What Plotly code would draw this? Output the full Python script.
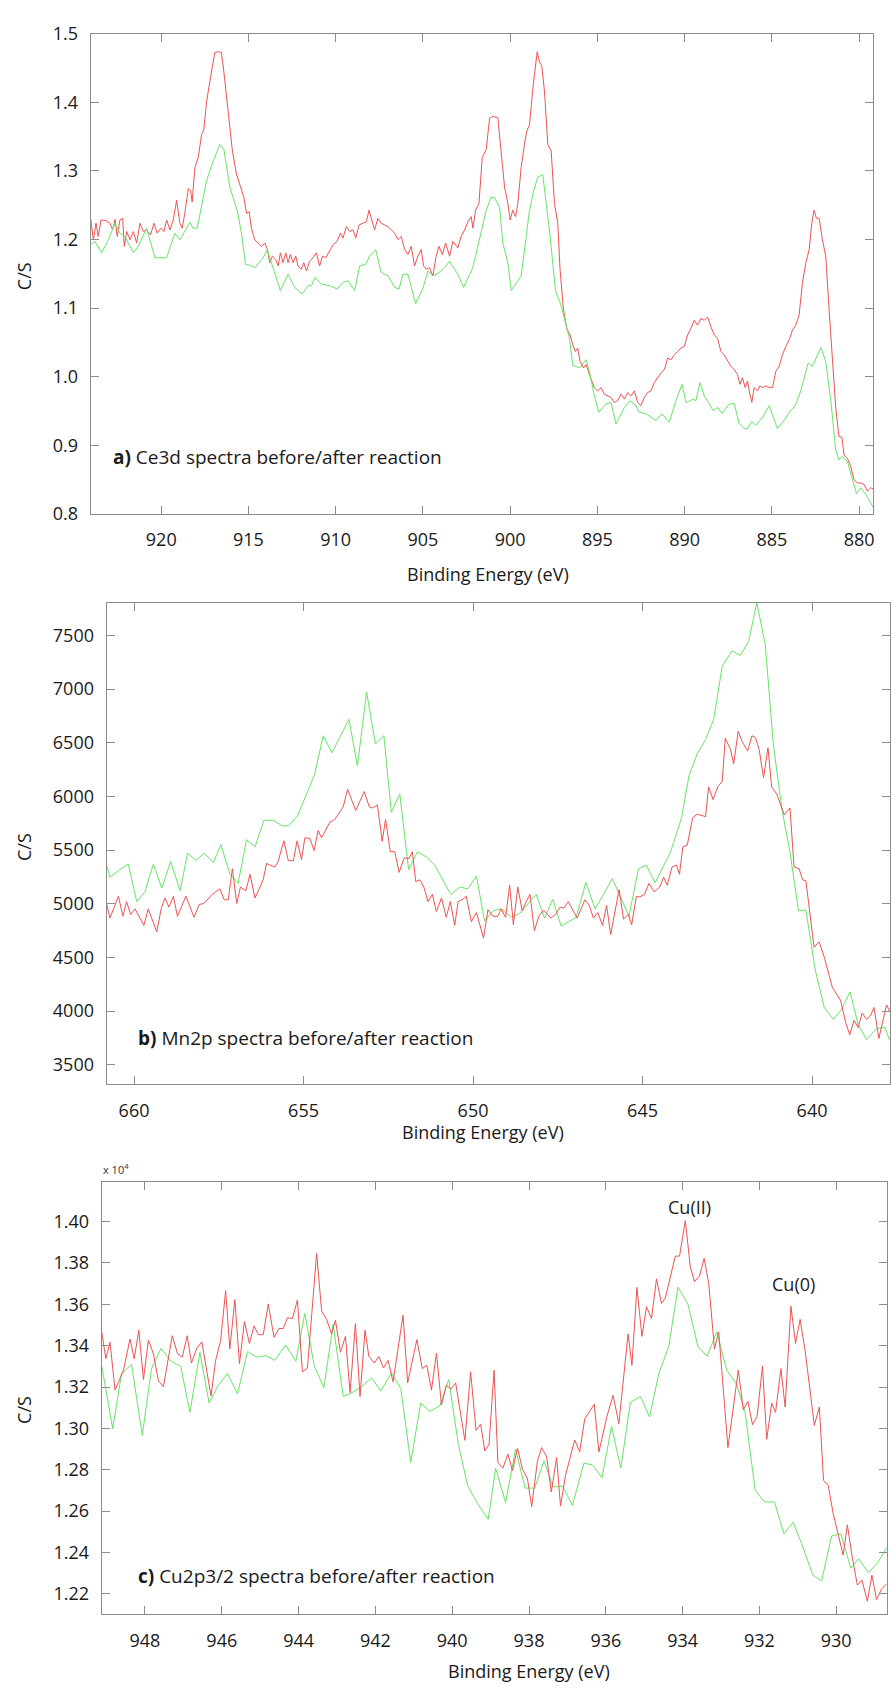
import plotly.graph_objects as go

W, H = 892, 1695

# ---------------- Panel a : Ce3d ----------------
ce_red_e = [924.05, 923.89, 923.74, 923.61, 923.45, 923.17, 922.94, 922.79, 922.65, 922.52, 922.37, 922.21, 922.12,
            921.98, 921.79, 921.60, 921.41, 921.22, 921.03, 920.84, 920.61, 920.42, 920.23, 920.02, 919.85, 919.69,
            919.50, 919.31, 919.12, 918.93, 918.80, 918.65, 918.45, 918.32, 918.23, 918.07, 917.88, 917.69, 917.56,
            917.40, 917.25, 917.12, 916.93, 916.74, 916.55, 916.41, 916.16, 915.92, 915.69, 915.46, 915.27, 915.11,
            914.96, 914.83, 914.64, 914.45, 914.26, 914.06, 913.91, 913.78, 913.63, 913.44, 913.30, 913.17, 913.02,
            912.86, 912.73, 912.60, 912.44, 912.29, 912.16, 911.97, 911.83, 911.68, 911.49, 911.30, 911.11, 910.92,
            910.76, 910.57, 910.34, 910.15, 909.92, 909.73, 909.58, 909.39, 909.20, 909.01, 908.85, 908.66, 908.44,
            908.24, 908.09, 907.90, 907.77, 907.58, 907.39, 907.19, 907.00, 906.81, 906.62, 906.43, 906.24, 906.05,
            905.86, 905.67, 905.48, 905.29, 905.10, 904.96, 904.81, 904.62, 904.43, 904.24, 904.08, 903.89, 903.70,
            903.47, 903.28, 903.00, 902.81, 902.61, 902.42, 902.23, 902.14, 901.98, 901.79, 901.60, 901.37, 901.18,
            900.99, 900.71, 900.52, 900.32, 900.13, 900.00, 899.85, 899.69, 899.56, 899.37, 899.18, 899.05, 898.89,
            898.70, 898.45, 898.32, 898.19, 898.03, 897.84, 897.65, 897.46, 897.27, 897.14, 896.95, 896.76, 896.56,
            896.41, 896.26, 896.13, 895.99, 895.80, 895.65, 895.46, 895.31, 895.17, 894.98, 894.79, 894.60, 894.41,
            894.22, 894.03, 893.84, 893.65, 893.45, 893.26, 893.07, 892.88, 892.69, 892.50, 892.31, 892.12, 891.93,
            891.74, 891.55, 891.35, 891.16, 890.97, 890.78, 890.59, 890.40, 890.21, 890.02, 889.83, 889.64, 889.45,
            889.26, 889.07, 888.87, 888.68, 888.49, 888.30, 888.11, 887.92, 887.73, 887.54, 887.35, 887.16, 886.97,
            886.83, 886.68, 886.53, 886.39, 886.26, 886.15, 886.01, 885.82, 885.69, 885.53, 885.34, 885.15, 884.96,
            884.77, 884.58, 884.39, 884.20, 884.01, 883.82, 883.63, 883.44, 883.24, 883.05, 882.86, 882.71, 882.58,
            882.44, 882.29, 882.10, 881.91, 881.72, 881.53, 881.34, 881.15, 880.99, 880.86, 880.67, 880.48, 880.29,
            880.10, 879.90, 879.71, 879.52, 879.33, 879.20]
ce_red_v = [1.2308, 1.1996, 1.2236, 1.2044, 1.2284, 1.2274, 1.2236, 1.2140, 1.2293, 1.2044, 1.2284, 1.2308, 1.1900,
            1.2116, 1.1996, 1.2116, 1.1948, 1.2236, 1.2116, 1.2140, 1.2068, 1.2236, 1.2092, 1.2164, 1.2116, 1.2284,
            1.2140, 1.2284, 1.2571, 1.2236, 1.2164, 1.2379, 1.2739, 1.2715, 1.2547, 1.3050, 1.3194, 1.3529, 1.3601,
            1.4009, 1.4248, 1.4440, 1.4727, 1.4737, 1.4727, 1.4440, 1.3865, 1.3290, 1.2954, 1.2763, 1.2619, 1.2379,
            1.2403, 1.2164, 1.1996, 1.1948, 1.1900, 1.1948, 1.1852, 1.1661, 1.1757, 1.1709, 1.1613, 1.1805, 1.1661,
            1.1805, 1.1661, 1.1781, 1.1661, 1.1757, 1.1613, 1.1565, 1.1661, 1.1541, 1.1685, 1.1733, 1.1805, 1.1613,
            1.1757, 1.1733, 1.1828, 1.1924, 1.1972, 1.2092, 1.2020, 1.2188, 1.2116, 1.2140, 1.2020, 1.2212, 1.2236,
            1.2260, 1.2427, 1.2236, 1.2140, 1.2308, 1.2236, 1.2212, 1.2188, 1.2140, 1.2092, 1.1996, 1.2044, 1.1852,
            1.1781, 1.1900, 1.1613, 1.1757, 1.1852, 1.1613, 1.1565, 1.1589, 1.1469, 1.1757, 1.1900, 1.1781, 1.1948,
            1.1757, 1.1972, 1.1876, 1.2044, 1.2140, 1.2260, 1.2332, 1.2164, 1.2427, 1.2523, 1.3194, 1.3314, 1.3769,
            1.3793, 1.3779, 1.3290, 1.2763, 1.2523, 1.2284, 1.2427, 1.2332, 1.2523, 1.3050, 1.3386, 1.3577, 1.3673,
            1.4200, 1.4737, 1.4584, 1.4536, 1.4152, 1.3386, 1.3290, 1.2523, 1.2236, 1.1565, 1.0990, 1.0702, 1.0607,
            1.0463, 1.0367, 1.0415, 1.0223, 1.0127, 1.0175, 1.0032, 0.9936, 0.9840, 0.9792, 0.9840, 0.9744, 0.9720,
            0.9696, 0.9624, 0.9648, 0.9744, 0.9672, 0.9768, 0.9720, 0.9792, 0.9624, 0.9576, 0.9696, 0.9768, 0.9792,
            0.9912, 0.9984, 1.0056, 1.0103, 1.0271, 1.0247, 1.0319, 1.0367, 1.0415, 1.0439, 1.0607, 1.0702, 1.0822,
            1.0750, 1.0846, 1.0822, 1.0870, 1.0726, 1.0607, 1.0559, 1.0367, 1.0319, 1.0223, 1.0151, 1.0103, 1.0032,
            0.9888, 0.9984, 0.9840, 0.9936, 0.9744, 0.9624, 0.9840, 0.9792, 0.9864, 0.9840, 0.9864, 0.9840, 0.9840,
            1.0080, 1.0151, 1.0319, 1.0439, 1.0535, 1.0678, 1.0750, 1.0894, 1.1373, 1.1661, 1.1852, 1.2236, 1.2427,
            1.2308, 1.2308, 1.1996, 1.1757, 1.0990, 1.0223, 0.9552, 0.9121, 0.9121, 0.8858, 0.8810, 0.8690, 0.8498,
            0.8450, 0.8450, 0.8426, 0.8331, 0.8379, 0.8364]

ce_grn_e = [924.05, 923.80, 923.42, 923.03, 922.65, 922.37, 922.08, 921.60, 921.32, 920.84, 920.36, 919.69, 919.22,
            918.93, 918.36, 918.17, 917.94, 917.40, 917.02, 916.64, 916.41, 916.07, 915.65, 915.40, 915.17, 914.89,
            914.64, 914.16, 913.93, 913.59, 913.17, 912.73, 912.35, 911.93, 911.58, 911.39, 911.20, 910.82, 910.34,
            909.92, 909.58, 909.29, 908.91, 908.63, 908.28, 908.05, 907.71, 907.39, 907.00, 906.62, 906.37, 906.15,
            905.86, 905.42, 905.00, 904.71, 904.43, 904.08, 903.76, 903.47, 903.38, 903.00, 902.67, 902.14, 901.56,
            901.37, 901.09, 900.90, 900.61, 900.42, 900.13, 899.94, 899.75, 899.37, 899.08, 898.89, 898.65, 898.42,
            898.13, 897.94, 897.71, 897.40, 897.08, 896.60, 896.41, 896.03, 895.65, 895.46, 895.17, 894.92, 894.50,
            894.22, 893.93, 893.45, 893.13, 892.79, 892.60, 892.21, 891.64, 891.30, 890.88, 890.50, 890.15, 889.92,
            889.50, 889.35, 889.12, 888.87, 888.59, 888.36, 888.11, 887.86, 887.44, 887.16, 886.87, 886.58, 886.39,
            886.16, 885.92, 885.53, 885.15, 884.68, 884.29, 884.01, 883.66, 883.34, 882.92, 882.67, 882.19, 881.91,
            881.62, 881.34, 881.15, 880.92, 880.67, 880.38, 880.15, 879.90, 879.62, 879.33, 879.20]
ce_grn_v = [1.1924, 1.1972, 1.1805, 1.1996, 1.2236, 1.2092, 1.2044, 1.1805, 1.1900, 1.2164, 1.1733, 1.1733, 1.2092,
            1.1996, 1.2250, 1.2164, 1.2164, 1.2859, 1.3146, 1.3386, 1.3314, 1.2763, 1.2427, 1.2092, 1.1637, 1.1622,
            1.1589, 1.1733, 1.1852, 1.1589, 1.1253, 1.1493, 1.1301, 1.1206, 1.1325, 1.1325, 1.1445, 1.1349, 1.1325,
            1.1277, 1.1373, 1.1397, 1.1253, 1.1613, 1.1637, 1.1757, 1.1852, 1.1517, 1.1469, 1.1301, 1.1277, 1.1493,
            1.1493, 1.1062, 1.1287, 1.1541, 1.1469, 1.1517, 1.1589, 1.1685, 1.1637, 1.1493, 1.1301, 1.1589, 1.2236,
            1.2427, 1.2619, 1.2610, 1.2475, 1.1948, 1.1661, 1.1253, 1.1325, 1.1469, 1.2044, 1.2427, 1.2715, 1.2907,
            1.2945, 1.2523, 1.2044, 1.1253, 1.1038, 1.0559, 1.0166, 1.0127, 1.0247, 1.0080, 0.9720, 0.9481, 0.9600,
            0.9624, 0.9313, 0.9552, 0.9648, 0.9576, 0.9481, 0.9457, 0.9361, 0.9457, 0.9337, 0.9648, 0.9888, 0.9624,
            0.9672, 0.9648, 0.9912, 0.9720, 0.9600, 0.9505, 0.9552, 0.9466, 0.9600, 0.9610, 0.9313, 0.9241, 0.9241,
            0.9346, 0.9289, 0.9409, 0.9576, 0.9241, 0.9361, 0.9481, 0.9576, 0.9792, 1.0199, 1.0151, 1.0425, 1.0223,
            0.9648, 0.8930, 0.8786, 0.8834, 0.8762, 0.8498, 0.8297, 0.8379, 0.8283, 0.8163, 0.8091]

# ---------------- Panel b : Mn2p ----------------
mn_red_e = [660.81, 660.71, 660.46, 660.33, 660.22, 660.10, 659.97, 659.71, 659.58, 659.33, 659.20, 659.09, 658.97,
            658.84, 658.72, 658.47, 658.23, 658.08, 657.94, 657.69, 657.47, 657.34, 657.22, 657.10, 656.97, 656.86,
            656.70, 656.58, 656.43, 656.19, 656.09, 655.99, 655.84, 655.75, 655.58, 655.45, 655.30, 655.19, 655.06,
            654.96, 654.81, 654.69, 654.57, 654.47, 654.22, 654.08, 653.83, 653.70, 653.46, 653.21, 653.06, 652.97,
            652.82, 652.68, 652.58, 652.44, 652.31, 652.18, 652.03, 651.89, 651.79, 651.69, 651.57, 651.45, 651.33,
            651.20, 651.08, 650.93, 650.79, 650.67, 650.54, 650.44, 650.29, 650.20, 650.05, 649.90, 649.69, 649.56,
            649.41, 649.27, 649.17, 649.04, 648.92, 648.81, 648.68, 648.55, 648.43, 648.32, 648.19, 648.06, 647.92,
            647.70, 647.57, 647.43, 647.32, 647.19, 646.93, 646.70, 646.57, 646.45, 646.32, 646.18, 646.06, 645.94,
            645.69, 645.56, 645.42, 645.32, 645.18, 645.08, 644.94, 644.81, 644.66, 644.49, 644.38, 644.27, 644.13,
            644.00, 643.91, 643.81, 643.68, 643.52, 643.39, 643.14, 643.05, 642.92, 642.78, 642.65, 642.56, 642.41,
            642.31, 642.18, 642.05, 641.90, 641.77, 641.67, 641.56, 641.43, 641.30, 641.19, 641.04, 640.82, 640.65,
            640.53, 640.38, 640.28, 640.18, 639.94, 639.79, 639.63, 639.40, 639.16, 639.01, 638.89, 638.76, 638.64,
            638.52, 638.39, 638.28, 638.17, 638.03, 637.91, 637.80, 637.71]
mn_red_v = [5002, 4866, 5070, 4883, 5019, 4900, 4951, 4798, 4951, 4737, 4951, 5053, 4968,
            5070, 4883, 5070, 4873, 4992, 5002, 5087, 5138, 5036, 5036, 5325, 5002, 5155,
            5121, 5274, 5053, 5223, 5376, 5359, 5342, 5393, 5586, 5402, 5399, 5586, 5410,
            5614, 5607, 5495, 5682, 5614, 5760, 5784, 5902, 6066, 5868, 6045, 5902, 5892,
            5919, 5580, 5784, 5484, 5484, 5291, 5427, 5420, 5484, 5206, 5223, 5155, 5019,
            5087, 4927, 5053, 4873, 5019, 4798, 5019, 5043, 5070, 4832, 4917, 4679, 4944,
            4883, 4883, 4951, 4873, 5172, 4805, 5155, 4934, 5019, 5087, 4747, 4883, 4941,
            4866, 4900, 4968, 4958, 5019, 4866, 5036, 4985, 4866, 4917, 4798, 4985, 4713,
            5131, 4856, 4900, 4805, 5070, 5063, 5087, 5189, 5110, 5155, 5246, 5172, 5342,
            5359, 5274, 5529, 5546, 5800, 5834, 5811, 6089, 5970, 6089, 6140, 6541, 6440,
            6304, 6606, 6504, 6423, 6565, 6548, 6436, 6174, 6453, 6089, 6021, 5828, 5892,
            5342, 5325, 5223, 5213, 4594, 4645, 4492, 4220, 4101, 3897, 3778, 3914, 3846,
            3982, 3921, 3955, 4033, 3744, 3914, 4057, 3999]

mn_grn_e = [660.81, 660.71, 660.46, 660.17, 659.92, 659.68, 659.43, 659.18, 658.92, 658.64, 658.42, 658.17, 657.93,
            657.66, 657.44, 657.17, 656.93, 656.68, 656.43, 656.17, 655.89, 655.63, 655.44, 655.18, 654.91, 654.67,
            654.42, 654.16, 653.66, 653.41, 653.14, 652.88, 652.63, 652.41, 652.16, 651.90, 651.64, 651.38, 651.13,
            650.88, 650.69, 650.64, 650.39, 650.15, 649.90, 649.66, 649.41, 649.17, 648.87, 648.63, 648.14, 647.89,
            647.65, 647.40, 646.96, 646.67, 646.40, 645.89, 645.40, 645.12, 644.89, 644.63, 644.17, 643.85, 643.63,
            643.39, 643.14, 642.90, 642.65, 642.36, 642.12, 641.87, 641.63, 641.38, 641.14, 640.89, 640.65, 640.40,
            640.18, 639.91, 639.64, 639.37, 639.13, 638.88, 638.64, 638.39, 638.09, 637.85, 637.71]
mn_grn_v = [5359, 5246, 5308, 5369, 5019, 5110, 5369, 5144, 5393, 5121, 5471, 5403, 5471,
            5382, 5552, 5274, 5189, 5597, 5529, 5777, 5777, 5726, 5726, 5817, 6021, 6208,
            6565, 6406, 6718, 6283, 6973, 6490, 6565, 5851, 6021, 5318, 5484, 5437, 5359,
            5206, 5104, 5087, 5155, 5138, 5257, 4839, 4934, 4951, 4873, 4907, 5087, 4866,
            5043, 4791, 4873, 5199, 4951, 5233, 4883, 5325, 5359, 5195, 5484, 5800, 6191,
            6395, 6531, 6718, 7211, 7357, 7313, 7442, 7806, 7415, 6480, 5885, 5478, 4934,
            4941, 4390, 4033, 3921, 4016, 4179, 3873, 3734, 3839, 3846, 3727]

# ---------------- Panel c : Cu2p3/2 (x 10^4) ----------------
cu_red_e = [949.13, 949.02, 948.91, 948.78, 948.56, 948.39, 948.28, 948.16, 948.04, 947.91, 947.78, 947.65, 947.52,
            947.29, 947.15, 947.03, 946.90, 946.79, 946.66, 946.52, 946.28, 946.16, 946.03, 945.90, 945.79, 945.66,
            945.54, 945.41, 945.28, 945.16, 945.05, 944.92, 944.79, 944.64, 944.51, 944.40, 944.29, 944.16, 944.03,
            943.90, 943.77, 943.53, 943.40, 943.27, 943.14, 943.04, 942.91, 942.78, 942.66, 942.52, 942.40, 942.27,
            942.17, 942.03, 941.91, 941.79, 941.67, 941.54, 941.28, 941.16, 940.92, 940.78, 940.66, 940.54, 940.41,
            940.28, 940.15, 940.03, 939.91, 939.67, 939.52, 939.38, 939.26, 939.15, 939.04, 938.91, 938.81, 938.68,
            938.55, 938.43, 938.30, 938.17, 938.04, 937.93, 937.78, 937.67, 937.54, 937.42, 937.28, 937.18, 937.05,
            936.81, 936.68, 936.55, 936.30, 936.18, 935.97, 935.81, 935.66, 935.42, 935.32, 935.19, 935.06, 934.94,
            934.81, 934.68, 934.55, 934.45, 934.19, 934.08, 933.93, 933.80, 933.69, 933.56, 933.44, 933.32, 933.17,
            933.06, 932.82, 932.55, 932.42, 932.30, 932.18, 932.06, 931.92, 931.81, 931.68, 931.58, 931.44, 931.33,
            931.18, 931.06, 930.94, 930.81, 930.57, 930.44, 930.33, 930.21, 930.08, 929.82, 929.71, 929.58, 929.45,
            929.33, 929.19, 929.07, 928.95, 928.82, 928.69]
cu_red_v = [1.3472, 1.3337, 1.3416, 1.3185, 1.3281, 1.3432, 1.3337, 1.3475, 1.3236, 1.3427, 1.3360, 1.3230, 1.3201,
            1.3448, 1.3360, 1.3344, 1.3448, 1.3316, 1.3384, 1.3418, 1.3157, 1.3329, 1.3424, 1.3666, 1.3384, 1.3623,
            1.3313, 1.3516, 1.3411, 1.3496, 1.3453, 1.3453, 1.3602, 1.3440, 1.3483, 1.3483, 1.3535, 1.3531, 1.3621,
            1.3273, 1.3292, 1.3846, 1.3567, 1.3527, 1.3456, 1.3523, 1.3368, 1.3445, 1.3173, 1.3507, 1.3154, 1.3475,
            1.3348, 1.3316, 1.3348, 1.3292, 1.3329, 1.3225, 1.3547, 1.3220, 1.3429, 1.3289, 1.3305, 1.3185, 1.3364,
            1.3114, 1.3209, 1.3190, 1.3220, 1.2942, 1.3273, 1.2990, 1.3021, 1.2891, 1.2923, 1.3281, 1.2835, 1.2807,
            1.2875, 1.2796, 1.2904, 1.2803, 1.2756, 1.2621, 1.2843, 1.2907, 1.2862, 1.2692, 1.2859, 1.2624, 1.2772,
            1.2944, 1.2886, 1.3045, 1.3117, 1.2886, 1.3058, 1.3160, 1.3023, 1.3456, 1.3305, 1.3682, 1.3445, 1.3588,
            1.3531, 1.3723, 1.3604, 1.3631, 1.3833, 1.3833, 1.4005, 1.3782, 1.3710, 1.3737, 1.3822, 1.3702, 1.3384,
            1.3467, 1.2907, 1.3281, 1.3090, 1.3130, 1.3018, 1.3058, 1.3302, 1.2947, 1.3122, 1.3077, 1.3289, 1.3103,
            1.3591, 1.3411, 1.3527, 1.3376, 1.3014, 1.3103, 1.2748, 1.2724, 1.2589, 1.2387, 1.2533, 1.2374, 1.2242,
            1.2266, 1.2164, 1.2290, 1.2172, 1.2223, 1.2247]

cu_grn_e = [949.13, 948.84, 948.61, 948.35, 948.07, 947.83, 947.58, 947.32, 947.07, 946.83, 946.57, 946.33, 946.09,
            945.85, 945.59, 945.33, 945.09, 944.85, 944.62, 944.34, 944.07, 943.84, 943.59, 943.34, 943.10, 942.84,
            942.60, 942.36, 942.10, 941.86, 941.58, 941.34, 941.08, 940.82, 940.58, 940.32, 940.09, 939.84, 939.60,
            939.34, 939.06, 938.87, 938.61, 938.35, 938.10, 937.85, 937.61, 937.37, 937.13, 936.87, 936.57, 936.35,
            936.10, 935.85, 935.61, 935.36, 935.10, 934.86, 934.62, 934.36, 934.12, 933.86, 933.60, 933.36, 933.11,
            932.85, 932.59, 932.37, 932.11, 931.87, 931.61, 931.36, 931.12, 930.86, 930.61, 930.38, 930.12, 929.88,
            929.62, 929.42, 929.16, 928.92, 928.69]
cu_grn_v = [1.3305, 1.2998, 1.3265, 1.3309, 1.2966, 1.3289, 1.3387, 1.3324, 1.3300, 1.3077, 1.3368, 1.3122, 1.3209,
            1.3265, 1.3166, 1.3372, 1.3344, 1.3352, 1.3329, 1.3403, 1.3325, 1.3556, 1.3300, 1.3197, 1.3504, 1.3154,
            1.3173, 1.3201, 1.3244, 1.3181, 1.3268, 1.3193, 1.2835, 1.3122, 1.3082, 1.3109, 1.3236, 1.2923, 1.2724,
            1.2636, 1.2560, 1.2807, 1.2641, 1.2899, 1.2711, 1.2711, 1.2843, 1.2716, 1.2721, 1.2628, 1.2832, 1.2823,
            1.2761, 1.3010, 1.2807, 1.3125, 1.3154, 1.3055, 1.3265, 1.3397, 1.3683, 1.3599, 1.3395, 1.3349, 1.3467,
            1.3281, 1.3212, 1.3074, 1.2700, 1.2644, 1.2644, 1.2490, 1.2546, 1.2422, 1.2290, 1.2263, 1.2480, 1.2490,
            1.2323, 1.2369, 1.2302, 1.2350, 1.2422]

# axis tick values
a_xticks = [920, 915, 910, 905, 900, 895, 890, 885, 880]
a_yticks = [0.8, 0.9, 1.0, 1.1, 1.2, 1.3, 1.4, 1.5]
b_xticks = [660, 655, 650, 645, 640]
b_yticks = [3500, 4000, 4500, 5000, 5500, 6000, 6500, 7000, 7500]
c_xticks = [948, 946, 944, 942, 940, 938, 936, 934, 932, 930]
c_yticks = [1.22, 1.24, 1.26, 1.28, 1.30, 1.32, 1.34, 1.36, 1.38, 1.40]

RED = "#ee5252"
GREEN = "#66e466"
FONT = "Open Sans"


def px_x(p):
    return p / W


def px_y(p):
    return 1 - p / H


fig = go.Figure()
fig.add_trace(go.Scatter(x=ce_red_e, y=ce_red_v, mode="lines", line=dict(color=RED, width=1), xaxis="x", yaxis="y"))
fig.add_trace(go.Scatter(x=ce_grn_e, y=ce_grn_v, mode="lines", line=dict(color=GREEN, width=1), xaxis="x", yaxis="y"))
fig.add_trace(go.Scatter(x=mn_grn_e, y=mn_grn_v, mode="lines", line=dict(color=GREEN, width=1), xaxis="x2", yaxis="y2"))
fig.add_trace(go.Scatter(x=mn_red_e, y=mn_red_v, mode="lines", line=dict(color=RED, width=1), xaxis="x2", yaxis="y2"))
fig.add_trace(go.Scatter(x=cu_grn_e, y=cu_grn_v, mode="lines", line=dict(color=GREEN, width=1), xaxis="x3", yaxis="y3"))
fig.add_trace(go.Scatter(x=cu_red_e, y=cu_red_v, mode="lines", line=dict(color=RED, width=1), xaxis="x3", yaxis="y3"))

axis_common = dict(showline=True, linecolor="#8c8c8c", linewidth=1, mirror="ticks", ticks="inside",
                   ticklen=8, tickcolor="#8c8c8c", tickwidth=1, showgrid=False, zeroline=False,
                   tickfont=dict(family=FONT, size=18, color="#1a1a1a"))

fig.update_layout(
    width=W, height=H, margin=dict(l=0, r=0, t=0, b=0),
    paper_bgcolor="white", plot_bgcolor="white", showlegend=False,
    xaxis=dict(domain=[px_x(90.7), px_x(874)], range=[924.05, 879.2], tickvals=a_xticks,
               ticklabelstandoff=10, anchor="y", **axis_common),
    yaxis=dict(domain=[px_y(508), px_y(21)], range=[0.8, 1.5], tickvals=a_yticks, tickformat=".1f",
               ticklabelstandoff=8, anchor="x", **axis_common),
    xaxis2=dict(domain=[px_x(106.7), px_x(891)], range=[660.81, 637.7], tickvals=b_xticks,
                ticklabelstandoff=10, anchor="y2", **axis_common),
    yaxis2=dict(domain=[px_y(1086.7), px_y(598)], range=[3317, 7806], tickvals=b_yticks,
                ticklabelstandoff=8, anchor="x2", **axis_common),
    xaxis3=dict(domain=[px_x(101.7), px_x(888.3)], range=[949.13, 928.67], tickvals=c_xticks,
                ticklabelstandoff=10, anchor="y3", **axis_common),
    yaxis3=dict(domain=[px_y(1624), px_y(1185.7)], range=[1.2102, 1.4192], tickvals=c_yticks, tickformat=".2f",
                ticklabelstandoff=8, anchor="x3", **axis_common),
)

ann_font = dict(family=FONT, size=18, color="#1a1a1a")
annotations = [
    # axis titles
    dict(text="C/S", x=px_x(24), y=px_y(267), textangle=-90),
    dict(text="C/S", x=px_x(24), y=px_y(846), textangle=-90),
    dict(text="C/S", x=px_x(24), y=px_y(1417), textangle=-90),
    dict(text="Binding Energy (eV)", x=px_x(489), y=px_y(569)),
    dict(text="Binding Energy (eV)", x=px_x(484), y=px_y(1135)),
    dict(text="Binding Energy (eV)", x=px_x(530), y=px_y(1682)),
    # peak labels
    dict(text="Cu(II)", x=px_x(690), y=px_y(1211)),
    dict(text="Cu(0)", x=px_x(794), y=px_y(1289)),
]
for a in annotations:
    a.update(xref="paper", yref="paper", showarrow=False, font=ann_font, xanchor="center", yanchor="middle")

panel_labels = [
    dict(text="<b>a)</b> Ce3d spectra before/after reaction", x=px_x(111), y=px_y(450)),
    dict(text="<b>b)</b> Mn2p spectra before/after reaction", x=px_x(136), y=px_y(1040)),
    dict(text="<b>c)</b> Cu2p3/2 spectra before/after reaction", x=px_x(136), y=px_y(1585)),
]
for a in panel_labels:
    a.update(xref="paper", yref="paper", showarrow=False, xanchor="left", yanchor="middle",
             font=dict(family=FONT, size=19, color="#1a1a1a"))

multiplier = dict(text="x 10<sup>4</sup>", x=px_x(101), y=px_y(1173), xref="paper", yref="paper",
                  showarrow=False, xanchor="left", yanchor="middle",
                  font=dict(family=FONT, size=11, color="#333333"))

fig.update_layout(annotations=annotations + panel_labels + [multiplier])

fig.write_html("out.html", config={"displayModeBar": False})
